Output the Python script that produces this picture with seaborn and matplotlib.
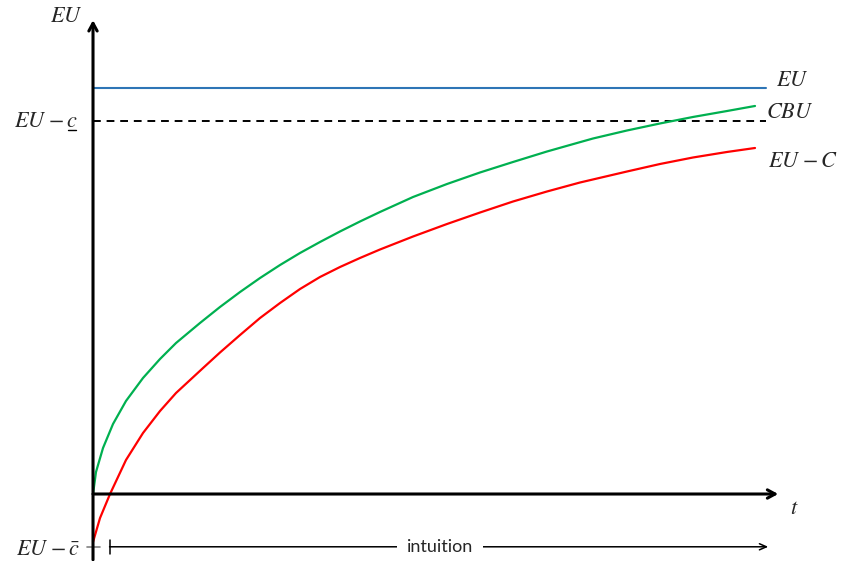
import matplotlib
matplotlib.use("Agg")
import matplotlib.pyplot as plt
import seaborn as sns
import pandas as pd

# ---- data (t = time, u = utility; EU level = 10) ----
t_cbu = [0, 0.045, 0.151, 0.302, 0.498, 0.755, 1.012, 1.254, 1.616, 1.918, 2.221,
         2.523, 2.825, 3.127, 3.429, 3.731, 4.033, 4.335, 4.834, 5.347, 5.846, 6.344,
         6.858, 7.311, 7.553, 8.066, 8.565, 9.063, 9.577, 10.0]
u_cbu = [0, 0.542, 1.133, 1.724, 2.291, 2.857, 3.325, 3.719, 4.212, 4.606, 4.975,
         5.320, 5.640, 5.936, 6.207, 6.466, 6.712, 6.946, 7.315, 7.635, 7.919, 8.177,
         8.436, 8.645, 8.756, 8.953, 9.126, 9.286, 9.433, 9.557]
t_euc = [0, 0.106, 0.257, 0.498, 0.755, 1.012, 1.254, 1.662, 1.918, 2.221, 2.523,
         2.825, 3.127, 3.429, 3.731, 4.033, 4.335, 4.834, 5.347, 5.846, 6.344, 6.858,
         7.356, 8.066, 8.565, 9.063, 9.577, 10.0]
u_euc = [-1.182, -0.591, 0, 0.837, 1.502, 2.044, 2.488, 3.103, 3.485, 3.916, 4.335,
         4.704, 5.049, 5.345, 5.591, 5.813, 6.022, 6.342, 6.650, 6.933, 7.204, 7.451,
         7.672, 7.943, 8.128, 8.288, 8.424, 8.522]
EU_level = 10.0
EU_c_under = 9.19
EU_c_bar = -1.30
t_end = 10.17

sns.set_style("white")
plt.rcParams["mathtext.fontset"] = "stix"

fig = plt.figure(figsize=(8.42, 5.61), dpi=100)
ax = fig.add_axes([0, 0, 1, 1])

df_eu = pd.DataFrame({"t": [0, t_end], "u": [EU_level, EU_level]})
df_dash = pd.DataFrame({"t": [0, t_end], "u": [EU_c_under, EU_c_under]})
df_cbu = pd.DataFrame({"t": t_cbu, "u": u_cbu})
df_euc = pd.DataFrame({"t": t_euc, "u": u_euc})

sns.lineplot(data=df_eu, x="t", y="u", ax=ax, color="#2E75B6", lw=1.5)
sns.lineplot(data=df_dash, x="t", y="u", ax=ax, color="black", lw=1.4,
             linestyle=(0, (4, 3)))
sns.lineplot(data=df_cbu, x="t", y="u", ax=ax, color="#00B050", lw=1.6, sort=False)
sns.lineplot(data=df_euc, x="t", y="u", ax=ax, color="#FF0000", lw=1.6, sort=False)

ax.set_xlim(-1.405, 11.314)
ax.set_ylim(-1.650, 12.167)
ax.axis("off")

# axes with arrows
arrow_kw = dict(arrowstyle="->,head_length=0.55,head_width=0.3", lw=2.2,
                color="black", shrinkA=0, shrinkB=0)
ax.annotate("", xy=(10.35, 0), xytext=(0, 0), arrowprops=arrow_kw)
ax.annotate("", xy=(0, 11.67), xytext=(0, -1.62), arrowprops=arrow_kw)

# small tick at bottom
ax.plot([-0.09, 0.11], [EU_c_bar, EU_c_bar], color="#808080", lw=1.2)

# intuition arrow
ax.annotate("", xy=(10.2, EU_c_bar), xytext=(0.25, EU_c_bar),
            arrowprops=dict(arrowstyle="->,head_length=0.5,head_width=0.22",
                            lw=1.1, color="black", shrinkA=0, shrinkB=0))
ax.plot([0.25, 0.25], [EU_c_bar - 0.17, EU_c_bar + 0.17], color="black", lw=1.1)
ax.text(5.24, EU_c_bar, "intuition", ha="center", va="center", fontsize=13,
        family=["Lato", "DejaVu Sans"],
        bbox=dict(boxstyle="square,pad=0.55", fc="white", ec="none"))

# labels
fs = 16
ax.text(-0.41, 11.78, r"$EU$", ha="center", va="center", fontsize=fs)
ax.text(-0.24, EU_c_under, r"$EU\;{-}\,c$", ha="right", va="center", fontsize=fs)
ax.plot([-0.38, -0.255], [EU_c_under - 0.22, EU_c_under - 0.22], color="black", lw=1.0)
ax.text(-0.20, EU_c_bar - 0.05, r"$EU\;{-}\,\bar{c}$", ha="right", va="center", fontsize=fs)
ax.text(10.32, 10.2, r"$EU$", ha="left", va="center", fontsize=fs)
ax.text(10.17, 9.41, r"$CBU$", ha="left", va="center", fontsize=fs)
ax.text(10.2, 8.2, r"$EU\;{-}\,C$", ha="left", va="center", fontsize=fs)
ax.text(10.6, -0.34, r"$t$", ha="center", va="center", fontsize=fs)

fig.savefig("out.png", dpi=100)
